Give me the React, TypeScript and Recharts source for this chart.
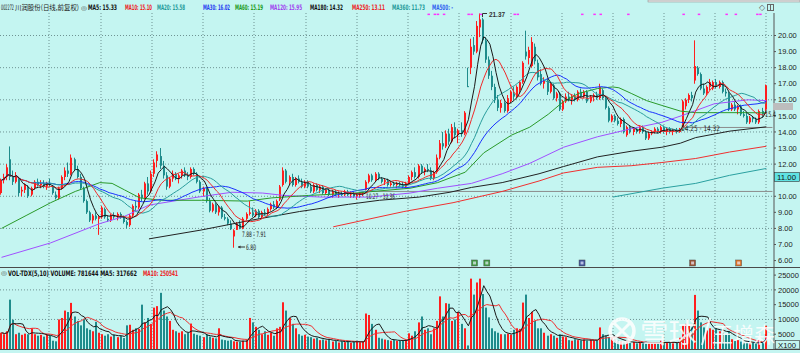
import React from "react";
import {
  ComposedChart,
  Bar,
  Line,
  XAxis,
  YAxis,
  CartesianGrid,
  ReferenceLine,
} from "recharts";

const BG = "#c4f5f1";
const UP = "#ff1e1e";
const DOWN = "#1f8c8c";
const FONT = "'Liberation Sans', Arial, sans-serif";
const NARROW = "'Liberation Sans Narrow', 'DejaVu Sans Condensed', 'Liberation Sans', Arial, sans-serif";
const CJK = "'Noto Sans CJK SC', sans-serif";
const AXIS_W = 26;
const PAD_BARS = 2; // empty slots right of the last candle

// [open, high, low, close] per trading day
const OHLC: [number, number, number, number][] = [
  [10.2, 11.1, 10.1, 11.0], [11.0, 11.4, 10.8, 11.2], [11.2, 12.0, 11.0, 11.8], [12.3, 13.1, 11.0, 11.2], [11.2, 11.6, 10.7, 10.9],
  [10.9, 11.5, 10.8, 11.3], [11.1, 11.2, 10.0, 10.2], [10.3, 10.6, 10.0, 10.4], [10.4, 10.8, 10.2, 10.7], [10.6, 10.7, 9.9, 10.0],
  [10.1, 10.6, 10.0, 10.5], [10.5, 11.0, 10.4, 10.9], [10.9, 11.1, 10.6, 10.7], [10.7, 11.0, 10.5, 10.8], [10.8, 11.0, 10.5, 10.6],
  [10.6, 10.9, 10.4, 10.8], [10.8, 11.1, 10.6, 10.7], [10.6, 10.7, 10.1, 10.2], [10.1, 10.3, 9.8, 9.9], [9.9, 10.6, 9.8, 10.5],
  [10.5, 11.3, 10.4, 11.2], [11.2, 11.8, 11.0, 11.6], [11.6, 12.1, 11.2, 11.4], [11.4, 12.6, 11.3, 12.4], [12.3, 12.4, 11.6, 11.7],
  [11.7, 11.9, 11.1, 11.2], [11.2, 11.4, 10.4, 10.5], [10.5, 10.6, 9.6, 9.7], [9.7, 9.8, 8.9, 9.0], [9.0, 9.1, 8.4, 8.5],
  [8.5, 8.9, 8.3, 8.8], [8.8, 9.0, 8.5, 8.6], [8.6, 8.8, 7.6, 8.7], [8.7, 9.4, 8.6, 9.3], [9.2, 9.3, 8.6, 8.7],
  [8.6, 8.8, 8.4, 8.5], [8.5, 8.9, 8.4, 8.8], [8.8, 9.0, 8.6, 8.7], [8.7, 9.0, 8.5, 8.9], [8.9, 9.0, 8.6, 8.7],
  [8.7, 8.8, 8.3, 8.4], [8.4, 8.5, 8.0, 8.2], [8.2, 8.9, 8.1, 8.8], [8.8, 9.5, 8.7, 9.4], [9.4, 9.7, 9.1, 9.3],
  [9.3, 10.2, 9.2, 10.1], [10.1, 10.4, 9.7, 9.9], [9.9, 10.9, 9.8, 10.8], [10.8, 11.2, 10.1, 10.3], [10.3, 11.6, 10.2, 11.4],
  [11.4, 12.3, 11.2, 12.1], [12.2, 12.8, 11.8, 12.6], [12.5, 13.0, 11.7, 11.9], [11.9, 12.2, 11.1, 11.3], [11.3, 11.5, 10.4, 10.6],
  [10.6, 11.2, 10.5, 11.1], [11.1, 11.6, 10.9, 11.4], [11.4, 11.5, 11.0, 11.1], [11.1, 11.4, 10.8, 11.3], [11.3, 11.7, 11.1, 11.6],
  [11.6, 11.8, 11.2, 11.3], [11.3, 11.5, 11.0, 11.2], [11.2, 11.8, 11.1, 11.7], [11.7, 11.8, 11.3, 11.4], [11.4, 11.5, 10.8, 10.9],
  [10.9, 11.0, 10.2, 10.3], [10.3, 10.6, 10.0, 10.5], [10.5, 10.6, 9.6, 9.7], [9.7, 9.9, 9.0, 9.1], [9.1, 9.6, 9.0, 9.5],
  [9.5, 9.6, 8.9, 9.0], [9.0, 9.4, 8.8, 9.3], [9.3, 9.4, 8.6, 8.7], [8.7, 8.9, 8.5, 8.6], [8.6, 8.7, 8.2, 8.3],
  [8.3, 8.5, 7.9, 7.95], [7.5, 7.95, 6.8, 7.88], [7.91, 8.4, 7.91, 8.3], [8.3, 8.5, 7.95, 8.0], [8.0, 8.7, 7.95, 8.6],
  [8.6, 9.0, 8.5, 8.9], [8.9, 9.7, 8.8, 9.0], [9.0, 9.3, 8.7, 8.8], [8.8, 9.2, 8.7, 9.1], [9.1, 9.2, 8.6, 8.7],
  [8.7, 9.1, 8.6, 9.0], [9.0, 9.2, 8.8, 8.9], [8.9, 9.3, 8.8, 9.2], [9.2, 9.6, 9.1, 9.5], [9.5, 9.7, 9.2, 9.3],
  [9.3, 9.8, 9.2, 9.7], [9.8, 10.7, 9.7, 10.6], [10.7, 11.8, 10.6, 11.6], [11.6, 11.7, 10.8, 10.9], [10.9, 11.3, 10.7, 11.2],
  [11.2, 11.4, 10.6, 10.7], [10.7, 11.2, 10.6, 11.1], [11.1, 11.3, 10.8, 10.9], [10.9, 11.1, 10.5, 10.6], [10.6, 11.0, 10.5, 10.9],
  [10.9, 11.0, 10.5, 10.6], [10.6, 10.8, 10.2, 10.3], [10.3, 10.8, 10.2, 10.7], [10.7, 10.8, 10.3, 10.4], [10.4, 10.7, 10.2, 10.6],
  [10.6, 10.7, 10.1, 10.2], [10.2, 10.5, 10.1, 10.4], [10.4, 10.5, 10.0, 10.1], [10.1, 10.4, 9.9, 10.3], [10.3, 10.4, 10.0, 10.1],
  [10.1, 10.3, 9.9, 10.2], [10.2, 10.3, 10.0, 10.1], [10.1, 10.4, 10.0, 10.3], [10.3, 10.4, 10.0, 10.1], [10.1, 10.3, 9.9, 10.2],
  [10.2, 10.3, 9.9, 10.0], [10.0, 10.2, 9.8, 10.1], [10.1, 10.25, 9.9, 10.2], [10.2, 10.27, 10.0, 10.25], [10.4, 11.0, 10.36, 10.9],
  [10.9, 11.4, 10.8, 11.3], [11.3, 11.4, 10.9, 11.0], [11.0, 11.5, 10.9, 11.4], [11.4, 11.5, 11.0, 11.1], [11.1, 11.2, 10.8, 10.9],
  [10.9, 11.1, 10.7, 11.0], [11.0, 11.1, 10.6, 10.7], [10.7, 10.9, 10.6, 10.8], [10.8, 10.9, 10.6, 10.7], [10.7, 10.9, 10.5, 10.8],
  [10.8, 10.9, 10.6, 10.7], [10.7, 10.9, 10.5, 10.6], [10.6, 10.9, 10.5, 10.8], [10.8, 11.3, 10.7, 11.2], [11.2, 11.6, 11.0, 11.5],
  [11.5, 11.8, 11.1, 11.2], [11.2, 12.0, 11.1, 11.9], [11.9, 12.0, 11.4, 11.5], [11.5, 11.8, 11.3, 11.7], [11.7, 12.0, 11.5, 11.6],
  [11.6, 11.8, 11.0, 11.1], [11.1, 11.6, 11.0, 11.5], [11.5, 12.6, 11.4, 12.4], [12.4, 13.5, 12.3, 13.3], [13.3, 14.0, 12.9, 13.1],
  [13.1, 14.1, 13.0, 13.9], [13.9, 14.2, 13.2, 13.4], [13.4, 14.5, 13.3, 14.3], [14.3, 14.6, 13.6, 13.8], [13.8, 14.2, 13.3, 14.1],
  [14.1, 14.6, 13.7, 13.9], [13.9, 15.3, 13.8, 15.2], [16.85, 18.0, 16.8, 16.8], [18.0, 19.8, 17.6, 19.3], [19.4, 19.9, 18.8, 19.0],
  [19.0, 20.9, 18.9, 20.6], [20.5, 21.37, 19.9, 21.0], [21.0, 21.1, 19.5, 19.7], [19.7, 19.9, 18.3, 18.5], [18.5, 18.7, 17.3, 17.5],
  [17.5, 17.8, 16.6, 16.8], [16.8, 17.0, 15.8, 16.0], [16.0, 16.3, 15.3, 15.5], [15.5, 16.0, 15.2, 15.8], [15.8, 15.9, 15.2, 15.3],
  [15.3, 16.3, 15.2, 16.1], [15.9, 16.6, 15.8, 16.5], [16.4, 16.8, 16.0, 16.2], [16.2, 16.9, 16.1, 16.8], [16.6, 17.2, 16.4, 17.1],
  [17.1, 18.4, 17.0, 18.3], [19.0, 20.3, 18.5, 18.7], [18.6, 19.3, 18.2, 19.1], [18.1, 19.9, 18.0, 19.6], [19.3, 19.5, 18.2, 18.4],
  [18.3, 18.5, 17.2, 17.4], [17.6, 17.9, 16.9, 17.0], [17.0, 17.4, 16.7, 17.2], [17.2, 17.3, 16.3, 16.5], [16.5, 17.1, 16.4, 17.0],
  [16.9, 17.0, 16.0, 16.1], [16.1, 16.5, 15.9, 16.4], [16.4, 16.5, 15.3, 15.4], [15.4, 16.0, 15.3, 15.9], [15.9, 16.4, 15.8, 16.2],
  [16.2, 16.5, 15.9, 16.0], [16.0, 16.3, 15.7, 16.2], [16.2, 16.4, 15.9, 16.0], [16.0, 16.6, 15.9, 16.5], [16.5, 16.7, 16.1, 16.2],
  [16.2, 16.6, 16.1, 16.5], [16.5, 16.6, 15.8, 15.9], [15.9, 16.3, 15.8, 16.2], [16.2, 16.4, 15.9, 16.3], [16.3, 16.5, 16.0, 16.1],
  [16.1, 17.0, 16.0, 16.8], [16.6, 16.7, 16.0, 16.1], [16.1, 16.2, 15.4, 15.5], [15.5, 15.6, 14.6, 14.7], [14.7, 15.1, 14.6, 15.0],
  [15.0, 15.1, 14.6, 14.7], [14.7, 14.9, 14.4, 14.5], [14.5, 14.9, 14.3, 14.8], [14.8, 14.9, 13.9, 14.0], [13.8, 14.4, 13.7, 14.3],
  [14.3, 14.4, 13.9, 14.0], [14.0, 14.3, 13.8, 14.2], [14.2, 14.3, 13.9, 14.0], [14.0, 14.4, 13.9, 14.3], [14.3, 14.4, 13.9, 14.0],
  [14.0, 14.1, 13.5, 13.6], [13.6, 14.0, 13.5, 13.9], [13.9, 14.1, 13.8, 14.0], [14.0, 14.3, 13.9, 14.2], [14.2, 14.3, 13.9, 14.0],
  [14.0, 14.4, 13.9, 14.3], [14.3, 14.4, 13.9, 14.0], [14.0, 14.3, 13.8, 14.2], [14.2, 14.3, 13.9, 14.0], [14.0, 14.2, 13.8, 14.1],
  [14.1, 14.25, 13.9, 14.0], [14.0, 14.25, 13.95, 14.2], [14.32, 16.0, 14.32, 15.9], [15.6, 16.1, 15.4, 16.0], [16.0, 16.4, 15.8, 16.3],
  [16.3, 16.5, 15.9, 16.1], [17.2, 19.7, 17.0, 18.1], [18.0, 18.1, 17.5, 17.6], [17.6, 17.7, 16.6, 16.7], [16.7, 17.0, 16.3, 16.4],
  [16.4, 16.9, 16.3, 16.8], [16.8, 17.3, 16.6, 17.1], [16.7, 17.2, 16.6, 17.1], [17.1, 17.3, 16.7, 16.8], [16.8, 17.2, 16.7, 17.1],
  [17.1, 17.2, 16.4, 16.5], [16.5, 16.7, 16.2, 16.4], [16.4, 16.5, 15.3, 15.4], [15.4, 15.8, 15.3, 15.7], [15.7, 15.9, 15.3, 15.4],
  [15.4, 15.7, 15.1, 15.6], [15.6, 15.7, 15.0, 15.1], [15.1, 15.3, 14.9, 15.0], [15.0, 15.2, 14.5, 14.6], [14.6, 15.0, 14.5, 14.9],
  [14.9, 15.0, 14.6, 14.8], [14.8, 14.9, 14.5, 14.6], [14.6, 15.4, 14.5, 15.3], [15.3, 15.5, 14.9, 15.1], [15.4, 16.95, 15.3, 16.9],
];

// volume in hundreds of shares (axis shows X100)
const VOLUME = [
  5500, 5000, 6000, 16700, 9900, 5000, 5500, 4800, 5200, 5000,
  7000, 5000, 4500, 4800, 4200, 5000, 4500, 2800, 2600, 10000,
  10500, 13000, 12500, 15600, 11000, 9500, 8000, 10000, 7000, 6500,
  6000, 9200, 5500, 5000, 4500, 5000, 4200, 4800, 4000, 4500,
  3700, 8000, 8200, 6500, 7000, 6800, 15000, 9000, 10500, 8500,
  14000, 14500, 19000, 13000, 11000, 9500, 6500, 6000, 5500, 6000,
  5000, 5500, 8600, 5200, 4800, 4500, 4000, 5000, 4200, 3800,
  3600, 7000, 3200, 3000, 2800, 3000, 2600, 2500, 2400, 2800,
  3000, 10500, 9000, 7500, 6500, 5000, 6000, 4800, 5500, 4500,
  7000, 7500, 15800, 13000, 10500, 8500, 7000, 5000, 4500, 4800,
  4200, 4000, 3500, 3800, 3000, 3200, 2900, 3300, 2500, 2700,
  2200, 2600, 2300, 2800, 2100, 2400, 2600, 2300, 2500, 12000,
  11500, 8500, 6500, 3800, 3500, 3200, 3000, 2800, 3200, 2700,
  2800, 2900, 3000, 5300, 4500, 6000, 9000, 11000, 6500, 7000,
  5000, 7000, 9500, 17800, 11000, 15500, 15300, 9500, 10000, 12500,
  8500, 7000, 1200, 23800, 18400, 22500, 23800, 18600, 14000, 10700,
  7000, 6000, 5500, 5000, 5000, 5200, 4800, 6500, 7000, 6800,
  15700, 18400, 10500, 12600, 9500, 7000, 7000, 5500, 4500, 5000,
  4500, 3800, 5000, 4200, 4000, 3000, 2800, 3300, 3000, 2900,
  3200, 2800, 3100, 2900, 3000, 7300, 5000, 4500, 4000, 3800,
  3500, 2800, 2500, 2200, 2600, 2000, 2400, 1900, 2300, 1800,
  2500, 2100, 1900, 2200, 2000, 2800, 2200, 2000, 2400, 1900,
  2100, 3800, 8000, 8500, 7800, 7300, 18300, 13000, 9000, 7300,
  6300, 7000, 6500, 6800, 6000, 5500, 5000, 6000, 3300, 2800,
  3000, 2500, 2300, 2200, 2000, 2100, 1800, 3000, 2200, 7816,
];

// long averages: [bar, value]
const MA60_READ: [number, number][] = [
  [0, 8.0], [8, 8.8], [16, 9.6], [24, 10.3], [32, 10.85], [36, 10.8], [40, 10.4], [45, 9.9], [52, 9.75],
  [65, 9.75], [80, 9.7], [88, 9.9], [100, 10.05], [115, 10.2], [133, 10.5], [142, 10.85], [151, 11.5],
  [157, 12.7], [166, 13.8], [172, 14.3], [178, 15.1], [183, 15.9], [188, 16.4], [194, 16.7], [199, 16.8],
  [201, 16.75], [205, 16.4], [210, 15.95], [215, 15.65], [221, 15.3], [226, 15.2], [233, 15.2], [241, 15.2], [249, 15.19],
];
const MA120_READ: [number, number][] = [
  [0, 6.2], [16, 7.1], [32, 8.3], [40, 8.75], [48, 9.45], [64, 9.95], [75, 10.25], [85, 10.2], [92, 10.05],
  [104, 9.95], [120, 9.95], [133, 10.2], [142, 10.5], [153, 10.8], [163, 11.4], [172, 12.05], [183, 13.05],
  [194, 13.7], [205, 14.2], [215, 14.6], [222, 15.05], [232, 15.75], [243, 16.0], [249, 15.95],
];
const MA180_READ: [number, number][] = [
  [48, 7.35], [65, 7.9], [81, 8.5], [97, 9.05], [113, 9.5], [123, 9.75], [136, 9.95], [146, 10.25], [153, 10.55],
  [163, 10.85], [175, 11.4], [183, 11.85], [194, 12.45], [205, 12.8], [215, 13.05], [221, 13.3], [226, 13.65],
  [237, 14.05], [249, 14.32],
];
const MA250_READ: [number, number][] = [
  [108, 8.1], [131, 9.05], [147, 9.6], [163, 10.3], [175, 10.95], [183, 11.45], [194, 11.8], [205, 11.9],
  [215, 12.1], [226, 12.35], [237, 12.75], [249, 13.11],
];
const MA360_READ: [number, number][] = [
  [199, 9.95], [215, 10.5], [226, 10.8], [237, 11.3], [249, 11.73],
];

const SIGNALS = [139, 141, 142, 144, 152, 153, 156, 167, 168, 189, 193, 195, 204, 222, 227, 236, 239, 246, 247];
const EVENTS: [number, string][] = [
  [154, "#3f9a3f"], [158, "#3f9a3f"], [189, "#3a4f9a"], [225, "#9a5030"], [240, "#e07020"],
];

// 11.00 sits inside the highlighted cursor box instead of the plain tick list
const PRICE_TICKS = [6, 7, 8, 9, 10, 12, 13, 14, 15, 16, 17, 18, 19, 20];
const PRICE_GRID = [8, 10, 12, 14, 16, 18, 20];
const VOL_TICKS = [5000, 10000, 15000, 20000, 25000];
const VOL_GRID = [10000, 20000];
const GRID_X = [49, 101, 152, 203, 254, 306, 357, 408, 459, 511, 562, 613, 664, 715, 766];

const HEADER: [string, string, number, number][] = [
  ["MA5: 15.33", "#111", 88, 29],
  ["MA10: 15.10", "#ee2222", 125, 27],
  ["MA20: 15.58", "#1f9a9a", 157, 28],
  ["MA30: 16.02", "#1f3cf0", 203, 27],
  ["MA60: 15.19", "#1a9a1a", 235, 28],
  ["MA120: 15.95", "#a040f0", 270, 32],
  ["MA180: 14.32", "#111", 310, 33],
  ["MA250: 13.11", "#ee2222", 352, 33],
  ["MA360: 11.73", "#1f9a9a", 392, 33],
  ["MA500: -", "#3060f0", 432, 21],
];

function sma(vals: number[], n: number) {
  return vals.map((_, i) => {
    const from = Math.max(0, i - n + 1);
    let s = 0;
    for (let k = from; k <= i; k++) s += vals[k];
    return s / (i - from + 1);
  });
}

const closes = OHLC.map((r) => r[3]);
const cMa5 = sma(closes, 5);
const cMa10 = sma(closes, 10);
const cMa20 = sma(closes, 20);
const cMa30 = sma(closes, 30);
const vMa5 = sma(VOLUME, 5);
const vMa10 = sma(VOLUME, 10);

const pick = (pts: [number, number][], i: number) => {
  const f = pts.find((p) => p[0] === i);
  return f ? f[1] : null;
};

const rows = Array.from({ length: OHLC.length + PAD_BARS }, (_, i) => {
  const k = OHLC[i];
  if (!k) return { i };
  const ev = EVENTS.find((e) => e[0] === i);
  return {
    i,
    o: k[0],
    h: k[1],
    l: k[2],
    c: k[3],
    v: VOLUME[i],
    ma5: cMa5[i],
    ma10: cMa10[i],
    ma20: cMa20[i],
    ma30: cMa30[i],
    ma60: pick(MA60_READ, i),
    ma120: pick(MA120_READ, i),
    ma180: pick(MA180_READ, i),
    ma250: pick(MA250_READ, i),
    ma360: pick(MA360_READ, i),
    vma5: vMa5[i],
    vma10: vMa10[i],
    sig: SIGNALS.includes(i) ? 21.3 : null,
    ev: ev ? 5.85 : null,
    evColor: ev ? ev[1] : null,
  };
});

function Candle(props: any) {
  const { x, y, width, height, payload } = props;
  if (!payload || payload.h == null) return <g />;
  const { o, h, l, c } = payload;
  const color = c >= o ? UP : DOWN;
  const top = Math.min(y, y + height);
  const span = Math.abs(height);
  const toY = (p: number) => (h > l ? top + ((h - p) / (h - l)) * span : top);
  const left = Math.floor(x + width / 2 - 1);
  const b0 = toY(Math.max(o, c));
  const b1 = toY(Math.min(o, c));
  return (
    <g>
      <rect x={left} y={top} width={1} height={Math.max(1, span)} fill={color} />
      <rect x={left} y={b0} width={2} height={Math.max(1, b1 - b0)} fill={color} />
    </g>
  );
}

function VolBar(props: any) {
  const { x, y, width, height, payload } = props;
  if (!payload || payload.v == null) return <g />;
  const color = payload.c >= payload.o ? UP : DOWN;
  const left = Math.floor(x + width / 2 - 1);
  return <rect x={left} y={y} width={2} height={height} fill={color} />;
}

function SignalDot(props: any) {
  const { cx, cy, payload } = props;
  if (cy == null || !payload || payload.sig == null) return <g key={props.key} />;
  return <rect key={props.key} x={cx - 1} y={cy - 1} width={2.5} height={1.5} fill="#ff30ff" />;
}

function EventDot(props: any) {
  const { cx, cy, payload } = props;
  if (cy == null || !payload || payload.ev == null) return <g key={props.key} />;
  return (
    <g key={props.key}>
      <rect x={cx - 3} y={cy - 3} width={6} height={6} fill={payload.evColor} stroke="#555" strokeWidth={0.5} />
      <rect x={cx - 1.5} y={cy - 1.5} width={3} height={3} fill="#eef" opacity={0.7} />
    </g>
  );
}

// the terminal font is very condensed: squeeze text horizontally to the width it has there
function Tight(props: any) {
  const { x, y, w, sx, children, ...rest } = props;
  return (
    <g transform={`translate(${x},${y}) scale(${sx},1)`}>
      <text x={0} y={0} textLength={w / sx} lengthAdjust="spacingAndGlyphs" {...rest}>
        {children}
      </text>
    </g>
  );
}

const maLine = (key: string, color: string, connect = false) => (
  <Line
    key={key}
    type="linear"
    dataKey={key}
    stroke={color}
    strokeWidth={1}
    dot={false}
    activeDot={false}
    connectNulls={connect}
    isAnimationActive={false}
  />
);

const axisTick = { fontSize: 7.5, fill: "#222", fontFamily: FONT };

export default function App() {
  return (
    <div
      style={{
        position: "absolute",
        left: 0,
        top: 0,
        width: 800,
        height: 353,
        overflow: "hidden",
        background: BG,
        fontFamily: FONT,
      }}
    >
      {/* price pane */}
      <div style={{ position: "absolute", left: 0, top: 0 }}>
        <ComposedChart width={800} height={267} data={rows} margin={{ top: 13, right: 0, bottom: 0, left: 0 }}>
          <CartesianGrid
            horizontalValues={PRICE_GRID}
            verticalPoints={GRID_X}
            stroke="#6f9393"
            strokeDasharray="1 2"
          />
          <XAxis dataKey="i" hide />
          <YAxis
            orientation="right"
            width={AXIS_W}
            domain={[5.6, 21.4]}
            ticks={PRICE_TICKS}
            interval={0}
            tickFormatter={(v: number) => v.toFixed(2)}
            tick={axisTick}
            tickSize={2}
            tickMargin={2}
            axisLine={{ stroke: "#555" }}
            tickLine={{ stroke: "#555" }}
            allowDataOverflow
          />
          <ReferenceLine segment={[{ x: 119, y: 10.3 }, { x: 251, y: 10.3 }]} stroke="#8c8c8c" />
          <ReferenceLine segment={[{ x: 222, y: 14.28 }, { x: 251, y: 14.28 }]} stroke="#8c8c8c" />
          {maLine("ma360", "#2aa0a0", true)}
          {maLine("ma250", "#f03030", true)}
          {maLine("ma180", "#222", true)}
          {maLine("ma120", "#a050ff", true)}
          {maLine("ma60", "#2a9a2a", true)}
          {maLine("ma30", "#1a30ff")}
          {maLine("ma20", "#2a9d9d")}
          {maLine("ma10", "#f02a2a")}
          {maLine("ma5", "#1a1a1a")}
          <Bar
            dataKey={(d: any) => (d.h == null ? null : [d.l, d.h])}
            shape={Candle}
            isAnimationActive={false}
          />
          <Line dataKey="sig" stroke="none" dot={SignalDot} activeDot={false} isAnimationActive={false} />
          <Line dataKey="ev" stroke="none" dot={EventDot} activeDot={false} isAnimationActive={false} />
        </ComposedChart>
      </div>

      {/* volume pane */}
      <div style={{ position: "absolute", left: 0, top: 268 }}>
        <ComposedChart width={800} height={81} data={rows} margin={{ top: 0, right: 0, bottom: 0, left: 0 }}>
          <CartesianGrid
            horizontalValues={VOL_GRID}
            verticalPoints={GRID_X}
            stroke="#6f9393"
            strokeDasharray="1 2"
          />
          <XAxis dataKey="i" hide />
          <YAxis
            orientation="right"
            width={AXIS_W}
            domain={[0, 27400]}
            ticks={VOL_TICKS}
            interval={0}
            tick={axisTick}
            tickSize={2}
            tickMargin={2}
            axisLine={{ stroke: "#555" }}
            tickLine={{ stroke: "#555" }}
            allowDataOverflow
          />
          <Bar dataKey="v" shape={VolBar} isAnimationActive={false} />
          {maLine("vma10", "#f03030")}
          {maLine("vma5", "#1a1a1a")}
        </ComposedChart>
      </div>

      {/* texts, separators, watermark */}
      <svg
        width={800}
        height={353}
        style={{ position: "absolute", left: 0, top: 0, pointerEvents: "none" }}
      >
        <rect x={648} y={0} width={152} height={2} fill="#e6e6e6" stroke="#888" strokeWidth={0.5} />
        <Tight x={1} y={10} w={13} sx={0.5} fontSize={7.5} fill="#111" fontFamily={NARROW}>002272</Tight>
        <Tight x={15} y={10} w={64} sx={0.85} fontSize={7} fill="#222" fontFamily={CJK}>川润股份(日线,前复权)</Tight>
        <Tight x={81} y={9.5} w={5} sx={0.8} fontSize={6} fill="#444" fontFamily={FONT}>◎</Tight>
        {HEADER.map(([t, c, x, w]) => (
          <Tight key={t} x={x} y={10} w={w} sx={0.5} fontSize={7.5} fontWeight="bold" fill={c} fontFamily={NARROW}>
            {t}
          </Tight>
        ))}
        <text x={759} y={10} fontSize={8} fill="#666" fontFamily={FONT}>◇</text>
        <rect x={767.5} y={4.5} width={6} height={6} fill="none" stroke="#666" />
        <line x1={770.5} y1={4.5} x2={770.5} y2={10.5} stroke="#666" />

        {/* annotations */}
        <path d="M482.5 17 V13.5 H487" fill="none" stroke="#333" strokeWidth={1} />
        <Tight x={489} y={17} w={16} sx={0.75} fontSize={7.5} fontWeight="bold" fill="#333" fontFamily={FONT}>21.37</Tight>
        <Tight x={242} y={237} w={24} sx={0.5} fontSize={7.5} fill="#222" fontFamily={NARROW}>7.88 - 7.91</Tight>
        <line x1={238} y1={247} x2={245} y2={247} stroke="#333" />
        <path d="M238 247 l2.5 -1.5 v3 z" fill="#333" />
        <Tight x={246} y={249.5} w={10} sx={0.6} fontSize={7.5} fill="#222" fontFamily={NARROW}>6.80</Tight>
        <Tight x={366} y={199} w={29} sx={0.5} fontSize={7.5} fill="#222" fontFamily={NARROW}>10.27 - 10.36</Tight>
        <Tight x={681} y={131} w={39} sx={0.7} fontSize={7.5} fill="#222" fontFamily={NARROW}>14.25 - 14.32</Tight>
        <rect x={773} y={103} width={20} height={7} fill="#bdbdbd" />
        <Tight x={765} y={117} w={11} sx={0.6} fontSize={7.5} fill="#222" fontFamily={NARROW}>15.4</Tight>
        <rect x={774.5} y={172.5} width={25} height={9} fill="#5fe3e3" stroke="#333" strokeWidth={0.6} />
        <text x={777} y={180} fontSize={7.5} fill="#111" fontFamily={FONT} textLength={19} lengthAdjust="spacingAndGlyphs">11.00</text>

        {/* pane separators */}
        <line x1={0} y1={267.5} x2={800} y2={267.5} stroke="#4a4a4a" />
        <line x1={0} y1={349.5} x2={800} y2={349.5} stroke="#4a4a4a" />

        {/* volume header */}
        <Tight x={1} y={274.5} w={5} sx={0.8} fontSize={6} fill="#444" fontFamily={FONT}>◎</Tight>
        <Tight x={8} y={275.5} w={129} sx={0.6} fontSize={7.5} fontWeight="bold" fill="#111" fontFamily={NARROW}>
          VOL-TDX(5,10) VOLUME: 781644 MA5: 317662
        </Tight>
        <Tight x={143} y={275.5} w={35} sx={0.6} fontSize={7.5} fontWeight="bold" fill="#ee2222" fontFamily={NARROW}>
          MA10: 250541
        </Tight>
        <rect x={775.5} y={340.5} width={24} height={8.5} fill={BG} stroke="#333" strokeWidth={0.6} />
        <text x={778} y={347.8} fontSize={7} fill="#111" fontFamily={FONT} textLength={18} lengthAdjust="spacingAndGlyphs">X100</text>

        {/* watermark */}
        <g opacity={0.85}>
          <circle cx={622} cy={331} r={12} fill="none" stroke="#ffffff" strokeWidth={3.5} />
          <path d="M614 323 L630 339 M630 323 L614 339" stroke="#ffffff" strokeWidth={3} />
          <text x={640} y={343} fontSize={27} fill="#ffffff" fontFamily={CJK} textLength={57} lengthAdjust="spacingAndGlyphs">雪球</text>
          <line x1={710} y1={318} x2={702} y2={345} stroke="#ffffff" strokeWidth={2} />
          <text x={712} y={342} fontSize={21} fill="#ffffff" fontFamily={CJK} textLength={63} lengthAdjust="spacingAndGlyphs">王增森</text>
        </g>
      </svg>
    </div>
  );
}
